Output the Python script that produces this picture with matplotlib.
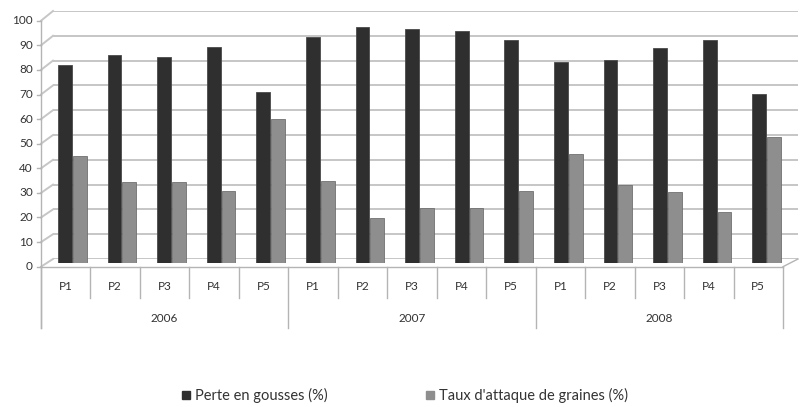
import matplotlib
matplotlib.use("Agg")
import matplotlib.pyplot as plt
from matplotlib.lines import Line2D
from matplotlib.patches import Rectangle

plt.rcParams["font.family"] = ["Liberation Sans Narrow", "Lato", "DejaVu Sans"]

# données
years = ["2006", "2007", "2008"]
periods = ["P1", "P2", "P3", "P4", "P5"]
perte_gousses = [80, 84, 83, 87, 69,
                 91, 95, 94.5, 93.5, 90,
                 81, 82, 86.5, 90, 68]
taux_attaque = [43, 32.5, 32.5, 29, 58,
                33, 18, 22, 22, 29,
                44, 31.5, 28.5, 20.5, 51]
legend_labels = ["Perte en gousses (%)", "Taux d'attaque de graines (%)"]
yticks = list(range(0, 101, 10))

W, H = 807, 407
fig = plt.figure(figsize=(W / 100, H / 100), dpi=100)


def fx(x):
    return x / W


def fy(y):
    return 1 - y / H


def fline(x1, y1, x2, y2, **kw):
    fig.add_artist(Line2D([fx(x1), fx(x2)], [fy(y1), fy(y2)],
                          transform=fig.transFigure, **kw))


grid_col = "#c6c6c6"
axis_col = "#b4b4b4"
txt_col = "#333333"

# mur du fond (grille)
back = fig.add_axes([fx(53), fy(259), fx(798) - fx(53), fy(11) - fy(259)])
back.set_xlim(0, 1)
back.set_ylim(0, 100)
for v in yticks:
    back.axhline(v, color=grid_col, lw=1.4)
back.axis("off")

# perspective : lignes obliques à gauche + sol
front0, front_step = 266.7, 2.46
back0, back_step = 259, 2.48
for v in yticks:
    yf = front0 - front_step * v
    yb = back0 - back_step * v
    fline(41, yf, 53, yb, color=grid_col, lw=1.4)
    fline(37, yf, 41, yf, color=axis_col, lw=1)
    fig.text(fx(33), fy(yf), str(v), ha="right", va="center",
             fontsize=8.5, color=txt_col)
fline(41, front0 - front_step * 100, 41, 328, color=axis_col, lw=1)
fline(41, front0, 783, front0, color=axis_col, lw=1)
fline(783, front0, 798, back0, color=axis_col, lw=1)

# barres (plan médian)
ax = fig.add_axes([fx(47), fy(263), fx(791) - fx(47), fy(15) - fy(263)])
ax.set_xlim(0, 15)
ax.set_ylim(0, 100)
ax.patch.set_alpha(0)
ax.axis("off")
xs = range(len(perte_gousses))
ax.bar([i + 0.36 for i in xs], perte_gousses, width=0.28,
       color="#2f2f2f", edgecolor="#4a4a4a", linewidth=0.6)
ax.bar([i + 0.66 for i in xs], taux_attaque, width=0.28,
       color="#8e8e8e", edgecolor="#707070", linewidth=0.6)

# axe des catégories à deux niveaux
cw = (783 - 41) / 15
for i in range(16):
    x = 41 + cw * i
    if i % 5 == 0:
        fline(x, front0, x, 328, color=axis_col, lw=1)
    else:
        fline(x, front0, x, 298, color=axis_col, lw=1)
for k, yr in enumerate(years):
    for j, p in enumerate(periods):
        i = k * 5 + j
        fig.text(fx(41 + cw * (i + 0.5)), fy(286), p, ha="center",
                 va="center", fontsize=8.5, color=txt_col)
    fig.text(fx(41 + cw * (k * 5 + 2.5)), fy(319), yr, ha="center",
             va="center", fontsize=8.5, color=txt_col)

# légende
leg_font = ["Lato", "DejaVu Sans"]
for sx, col, lab in [(182, "#2f2f2f", legend_labels[0]),
                     (426, "#8e8e8e", legend_labels[1])]:
    fig.add_artist(Rectangle((fx(sx), fy(399)), fx(8), fy(391) - fy(399),
                             transform=fig.transFigure, color=col))
    fig.text(fx(sx + 13), fy(395), lab, ha="left", va="center",
             fontsize=10.5, color=txt_col, family=leg_font)

fig.savefig("out.png", dpi=100)
